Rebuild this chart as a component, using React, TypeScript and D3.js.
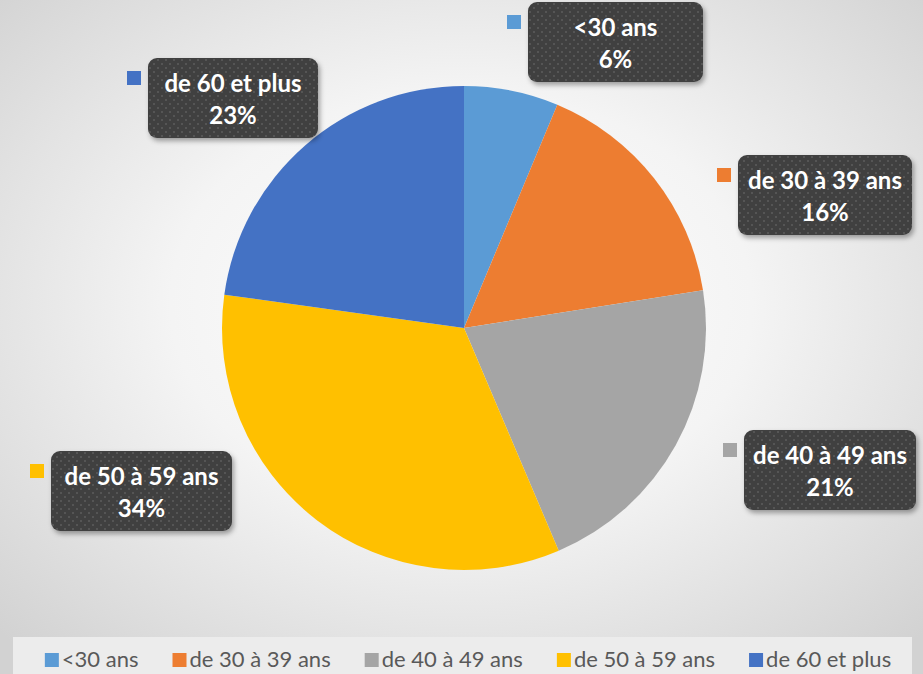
import React, { useEffect, useRef } from "react";
import * as d3 from "d3";

const categories = ["<30 ans", "de 30 à 39 ans", "de 40 à 49 ans", "de 50 à 59 ans", "de 60 et plus"];
const shares = [6.3, 16.2, 21.1, 33.6, 22.8];
const colors = ["#5B9BD5", "#ED7D31", "#A5A5A5", "#FFC000", "#4472C4"];

// where each data label box sits (moved by hand in the original)
const labelBoxes = [
  { x: 528, y: 2, w: 175 },
  { x: 738, y: 155, w: 174 },
  { x: 744, y: 430, w: 172 },
  { x: 51, y: 451, w: 181 },
  { x: 148, y: 58, w: 170 },
];

const width = 923;
const height = 674;

const App = () => {
  const svgRef = useRef<SVGSVGElement>(null);

  useEffect(() => {
    const svg = d3.select(svgRef.current);
    svg.selectAll("*").remove();

    const defs = svg.append("defs");
    const bg = defs
      .append("radialGradient")
      .attr("id", "bg")
      .attr("cx", "50%")
      .attr("cy", "45%")
      .attr("r", "70%");
    bg.append("stop").attr("offset", "0").attr("stop-color", "#ffffff");
    bg.append("stop").attr("offset", "0.45").attr("stop-color", "#f4f4f4");
    bg.append("stop").attr("offset", "1").attr("stop-color", "#d2d2d2");

    const dots = defs
      .append("pattern")
      .attr("id", "dots")
      .attr("width", 8)
      .attr("height", 8)
      .attr("patternUnits", "userSpaceOnUse");
    dots.append("rect").attr("width", 8).attr("height", 8).attr("fill", "#404040");
    dots.append("rect").attr("x", 1).attr("y", 1).attr("width", 2).attr("height", 2).attr("fill", "#555555");
    dots.append("rect").attr("x", 5).attr("y", 5).attr("width", 2).attr("height", 2).attr("fill", "#555555");

    const shadow = defs.append("filter").attr("id", "shadow").attr("x", "-20%").attr("y", "-20%").attr("width", "140%").attr("height", "150%");
    shadow
      .append("feDropShadow")
      .attr("dx", 2)
      .attr("dy", 3)
      .attr("stdDeviation", 2.5)
      .attr("flood-color", "#000")
      .attr("flood-opacity", 0.35);

    svg.append("rect").attr("width", width).attr("height", height).attr("fill", "url(#bg)");

    // pie
    const cx = 464;
    const cy = 328;
    const radius = 242;
    const pie = d3.pie<number>().sort(null).value((d) => d);
    const arcs = pie(shares);
    const arc = d3.arc<d3.PieArcDatum<number>>().innerRadius(0).outerRadius(radius);

    svg
      .append("g")
      .attr("transform", `translate(${cx},${cy})`)
      .selectAll("path")
      .data(arcs)
      .join("path")
      .attr("d", arc)
      .attr("fill", (d, i) => colors[i]);

    // data labels
    const total = d3.sum(shares);
    const labels = svg
      .append("g")
      .selectAll("g")
      .data(arcs)
      .join("g")
      .attr("transform", (d, i) => `translate(${labelBoxes[i].x},${labelBoxes[i].y})`);

    labels
      .append("rect")
      .attr("x", -21)
      .attr("y", 13)
      .attr("width", 14)
      .attr("height", 14)
      .attr("fill", (d, i) => colors[i]);

    labels
      .append("rect")
      .attr("width", (d, i) => labelBoxes[i].w)
      .attr("height", 80)
      .attr("rx", 9)
      .attr("fill", "url(#dots)")
      .attr("filter", "url(#shadow)");

    const txt = labels
      .append("text")
      .attr("text-anchor", "middle")
      .attr("fill", "#ffffff")
      .style("font-family", "Lato, sans-serif")
      .style("font-weight", "bold")
      .style("font-size", "24px");
    txt
      .append("tspan")
      .attr("x", (d, i) => labelBoxes[i].w / 2)
      .attr("y", 34)
      .text((d, i) => categories[i]);
    txt
      .append("tspan")
      .attr("x", (d, i) => labelBoxes[i].w / 2)
      .attr("y", 66)
      .text((d) => `${Math.round((d.value / total) * 100)}%`);

    // legend
    svg
      .append("rect")
      .attr("x", 13)
      .attr("y", 637)
      .attr("width", 899)
      .attr("height", 50)
      .attr("fill", "#ececec");

    const legend = svg.append("g");
    const items = legend
      .selectAll("g")
      .data(categories)
      .join("g");
    items
      .append("rect")
      .attr("width", 14)
      .attr("height", 14)
      .attr("fill", (d, i) => colors[i]);
    const legendText = items
      .append("text")
      .attr("x", 17)
      .attr("y", 14)
      .attr("fill", "#595959")
      .style("font-family", "Lato, sans-serif")
      .style("font-size", "22px")
      .text((d) => d);

    // flow the legend entries left to right, then centre the row
    const gap = 34;
    let pos = 0;
    const offsets: number[] = [];
    legendText.each(function () {
      offsets.push(pos);
      pos += 17 + (this as SVGTextElement).getComputedTextLength() + gap;
    });
    const rowWidth = pos - gap;
    const start = 468 - rowWidth / 2;
    items.attr("transform", (d, i) => `translate(${start + offsets[i]},653)`);
  }, []);

  return (
    <svg
      ref={svgRef}
      width={width}
      height={height}
      style={{ position: "absolute", left: 0, top: 0, display: "block" }}
    />
  );
};

export default App;
